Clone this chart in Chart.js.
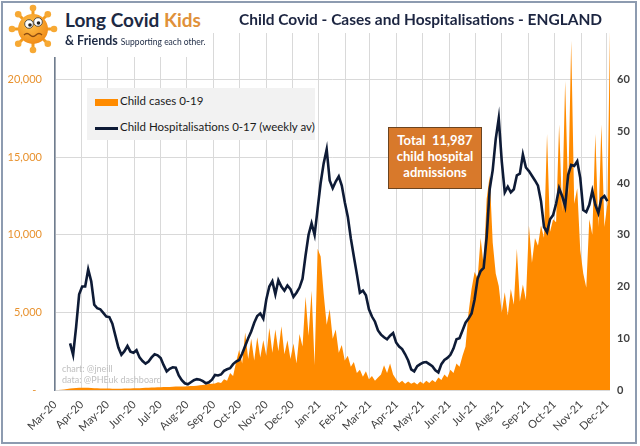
<!DOCTYPE html>
<html>
<head>
<meta charset="utf-8">
<script src="https://cdn.jsdelivr.net/npm/chart.js@4.4.1/dist/chart.umd.min.js"></script>
<style>
  body { margin: 0; background: #fff; }
  #wrap { position: relative; width: 640px; height: 446px; overflow: hidden; font-family: Lato, "Open Sans", sans-serif; }
  #chart { position: absolute; left: 0; top: 0; }
  #frame { position: absolute; left: 1px; top: 1px; width: 632px; height: 439px; border: 2px solid #8d9bb0; pointer-events: none; }
  #mask { position: absolute; left: 3px; top: 3px; width: 202px; height: 54px; background: #fff; }
  #logo { position: absolute; left: 0; top: 0; }
  #brand { position: absolute; left: 65px; top: 8px; font-size: 19px; font-weight: bold; color: #1d2a44; white-space: nowrap; }
  #brand span { color: #e0913a; }
  #friends { position: absolute; left: 65px; top: 33px; font-size: 12.5px; font-weight: bold; color: #1d2a44; white-space: nowrap; }
  #friends small { font-size: 8.5px; font-weight: normal; }
  #title { position: absolute; left: 239px; top: 10px; font-size: 16px; font-weight: bold; color: #1c2541; white-space: nowrap; }
  #legend { position: absolute; left: 87px; top: 88px; width: 228px; height: 52px; background: #f2f2f2; font-size: 11.5px; color: #1a1a1a; }
  #legend .row { position: absolute; left: 8px; height: 14px; white-space: nowrap; }
  #legend .sw1 { display: inline-block; width: 23px; height: 7px; background: #ff8b00; vertical-align: middle; margin-right: 2px; }
  #legend .sw2 { display: inline-block; width: 23px; height: 3px; background: #0e1b36; vertical-align: middle; margin-right: 2px; }
  #note { position: absolute; left: 388px; top: 127px; width: 92px; height: 56px; background: #d8792b; border: 1px solid #6b4420;
          color: #fff; font-weight: bold; font-size: 13px; line-height: 16px; text-align: center; padding-top: 4px; box-sizing: content-box; }
  #credit { position: absolute; left: 62px; top: 363px; font-size: 9px; line-height: 11px; color: #c0c0c0; }
</style>
</head>
<body>
<div id="wrap">
  <canvas id="chart" width="640" height="446"></canvas>
  <div id="mask"></div>
  <svg id="logo" width="64" height="58" viewBox="0 0 64 58">
    <defs>
      <radialGradient id="g" cx="40%" cy="35%" r="70%">
        <stop offset="0" stop-color="#ffc04a"/>
        <stop offset="1" stop-color="#f08a15"/>
      </radialGradient>
    </defs>
    <g stroke="#f39c1f" stroke-width="3">
      <line x1="33" y1="29" x2="54" y2="29"/><line x1="33" y1="29" x2="47.8" y2="14.2"/>
      <line x1="33" y1="29" x2="33" y2="8"/><line x1="33" y1="29" x2="18.2" y2="14.2"/>
      <line x1="33" y1="29" x2="12" y2="29"/><line x1="33" y1="29" x2="18.2" y2="43.8"/>
      <line x1="33" y1="29" x2="33" y2="50"/><line x1="33" y1="29" x2="47.8" y2="43.8"/>
    </g>
    <g fill="#f7a934">
      <circle cx="54" cy="29" r="3.3"/><circle cx="47.8" cy="14.2" r="3.3"/><circle cx="33" cy="8" r="3.3"/>
      <circle cx="18.2" cy="14.2" r="3.3"/><circle cx="12" cy="29" r="3.3"/><circle cx="18.2" cy="43.8" r="3.3"/>
      <circle cx="33" cy="50" r="3.3"/><circle cx="47.8" cy="43.8" r="3.3"/>
    </g>
    <circle cx="33" cy="29" r="15" fill="url(#g)"/>
    <circle cx="29" cy="24" r="4.3" fill="#fff" stroke="#333" stroke-width="0.8"/>
    <circle cx="38" cy="22" r="4.3" fill="#fff" stroke="#333" stroke-width="0.8"/>
    <circle cx="30" cy="25" r="1.8" fill="#222"/>
    <circle cx="38.5" cy="23" r="1.8" fill="#222"/>
    <path d="M24 35 q3 -3 6 0 t6 0 t6 0" stroke="#8a4a10" stroke-width="1.3" fill="none"/>
  </svg>
  <div id="brand">Long Covid <span>Kids</span></div>
  <div id="friends">&amp; Friends <small>Supporting each other.</small></div>
  <div id="title">Child Covid - Cases and Hospitalisations - ENGLAND</div>
  <div id="legend">
    <div class="row" style="top:6px"><span class="sw1"></span>Child cases 0-19</div>
    <div class="row" style="top:32px"><span class="sw2"></span>Child Hospitalisations 0-17 (weekly av)</div>
  </div>
  <div id="note">Total&nbsp; 11,987<br>child hospital<br>admissions</div>
  <div id="credit">chart: @jneill<br>data: @PHEuk dashboard</div>
  <div id="frame"></div>
</div>
<script>
// x axis: days since 1 Mar 2020
const MONTH_LABELS = ["Mar-20", "Apr-20", "May-20", "Jun-20", "Jul-20", "Aug-20", "Sep-20", "Oct-20",
    "Nov-20", "Dec-20", "Jan-21", "Feb-21", "Mar-21", "Apr-21", "May-21", "Jun-21", "Jul-21",
    "Aug-21", "Sep-21", "Oct-21", "Nov-21", "Dec-21"];
const MONTH_DAYS = [0, 31, 61, 92, 122, 153, 184, 214, 245, 275, 306, 337, 365, 396, 426, 457, 487,
    518, 549, 579, 610, 640];
const CASE_TICKS = [0, 5000, 10000, 15000, 20000];
const HOSP_TICKS = [0, 10, 20, 30, 40, 50, 60];

// child cases 0-19, one reading every 3.5 days from 1 Mar 2020
const CASE_STEP = 3.5;
const CASES = [
    0, 0, 20, 40, 70, 90, 110, 130, 140, 150,
    150, 140, 130, 120, 110, 100, 100, 90, 90, 80,
    80, 80, 80, 90, 90, 100, 110, 120, 120, 130,
    140, 150, 160, 160, 170, 180, 190, 200, 200, 210,
    220, 220, 230, 230, 240, 250, 260, 280, 300, 320,
    350, 380, 400, 420, 500, 450, 700, 600, 1100, 900,
    1800, 2600, 1700, 3700, 2000, 3300, 1900, 3400, 2100, 3200,
    2200, 4000, 2400, 3900, 2500, 4100, 2300, 3200, 2000, 3000,
    1700, 3600, 2800, 6000, 3500, 6400, 1600, 9100, 8600, 6200,
    4200, 5200, 3300, 3900, 2400, 2900, 1900, 2200, 1500, 1800,
    1100, 1300, 850, 1200, 700, 900, 600, 800, 1000, 1600,
    1100, 1700, 1000, 700, 450, 600, 400, 550, 400, 500,
    350, 550, 400, 600, 450, 650, 500, 800, 650, 1000,
    800, 1300, 1100, 1700, 1500, 2200, 2800, 5000, 6500, 7600,
    7200, 9800, 8000, 12300, 13800, 9500, 7500, 6700, 5000, 6300,
    4800, 6500, 5500, 9100, 5700, 6800, 5800, 10600, 8200, 9800,
    9300, 10600, 9800, 16500, 10200, 11000, 10800, 17100, 11500, 19900,
    12500, 22500, 12000, 13000, 9000, 7500, 6600, 11000, 10000, 16500,
    10500, 17100, 10500, 12000, 25000
];

// child hospitalisations 0-17 (weekly average), every 3.5 days from 18 Mar 2020
const HOSP_START = 17.5;
const HOSP_STEP = 3.5;
const HOSP = [
    9.0, 6.8, 12.2, 18.5, 20.0, 20.0, 23.3, 21.0, 16.5, 15.8,
    15.6, 14.9, 14.2, 14.1, 12.8, 10.5, 8.2, 6.8, 7.5, 8.5,
    7.4, 7.2, 7.7, 6.3, 5.6, 5.1, 5.5, 6.3, 6.9, 6.7,
    6.2, 4.8, 3.6, 4.1, 4.4, 4.3, 2.8, 1.9, 1.3, 1.1,
    1.5, 1.9, 2.1, 2.0, 1.7, 1.3, 1.5, 2.0, 2.9, 2.8,
    3.0, 3.7, 4.0, 4.2, 5.0, 5.5, 5.8, 7.0, 8.5, 10.0,
    11.3, 13.0, 14.3, 14.8, 13.8, 17.5, 20.0, 21.0, 18.5, 21.2,
    20.0, 19.2, 20.2, 19.5, 18.0, 18.8, 19.8, 21.5, 26.0, 30.0,
    32.2, 30.0, 35.0, 40.0, 43.8, 46.5, 40.5, 39.0, 40.3, 41.3,
    39.5, 36.3, 33.5, 29.3, 25.8, 22.4, 18.8, 19.2, 18.3, 15.6,
    14.2, 13.2, 11.5, 10.7, 10.2, 9.8, 10.5, 11.0, 9.2, 8.4,
    7.9, 6.9, 5.7, 4.0, 3.6, 4.6, 5.0, 5.3, 5.4, 5.0,
    4.6, 3.8, 3.4, 5.0, 5.8, 6.2, 6.8, 8.0, 9.8, 10.0,
    11.5, 13.0, 13.8, 14.8, 17.5, 21.5, 23.0, 23.6, 29.6, 38.8,
    42.5, 48.5, 52.5, 44.2, 38.2, 39.3, 38.2, 38.8, 41.5, 41.8,
    45.5, 43.0, 42.3, 41.4, 40.5, 39.5, 36.5, 31.5, 30.5, 33.0,
    33.8, 36.0, 39.0, 37.5, 35.5, 41.6, 43.5, 43.3, 44.2, 41.0,
    34.8, 34.4, 35.8, 38.5, 35.8, 34.2, 37.0, 37.5, 36.5
];

const casePoints = CASES.map((v, i) => ({ x: i * CASE_STEP, y: v }));
const hospPoints = HOSP.map((v, i) => ({ x: HOSP_START + i * HOSP_STEP, y: v }));

// squeeze the title into the width it takes in the picture
function fitWidth(el, target) {
    let size = parseFloat(getComputedStyle(el).fontSize);
    for (let n = 0; n < 6; n++) {
        size = size * target / el.getBoundingClientRect().width;
        el.style.fontSize = size + "px";
    }
}
fitWidth(document.getElementById("title"), 363);

const tickFont = { family: "Lato", size: 11 };

new Chart(document.getElementById("chart"), {
    data: {
        datasets: [{
            type: "line",
            label: "Child Hospitalisations 0-17 (weekly av)",
            data: hospPoints,
            yAxisID: "y2",
            borderColor: "#0e1b36",
            borderWidth: 2.6,
            pointRadius: 0,
            tension: 0,
            order: 0
        }, {
            type: "line",
            label: "Child cases 0-19",
            data: casePoints,
            yAxisID: "y",
            borderWidth: 0,
            backgroundColor: "#ff8b00",
            fill: "origin",
            pointRadius: 0,
            tension: 0,
            order: 1
        }]
    },
    options: {
        responsive: false,
        animation: false,
        layout: { padding: { top: 33, left: 0, right: 0, bottom: 0 } },
        plugins: {
            legend: { display: false },
            tooltip: { enabled: false }
        },
        scales: {
            x: {
                type: "linear",
                min: 0,
                max: 643.5,
                afterBuildTicks: (s) => { s.ticks = MONTH_DAYS.map(v => ({ value: v })); },
                afterFit: (s) => { s.height = 56; },
                grid: { color: "#d9d9d9", drawTicks: false },
                border: { display: false },
                ticks: {
                    autoSkip: false,
                    maxRotation: 45,
                    minRotation: 45,
                    padding: 8,
                    color: "#404040",
                    font: tickFont,
                    callback: (v, i) => MONTH_LABELS[i]
                }
            },
            y: {
                position: "left",
                min: 0,
                max: 23000,
                afterBuildTicks: (s) => { s.ticks = CASE_TICKS.map(v => ({ value: v })); },
                afterFit: (s) => { s.width = 55; },
                grid: { color: "#d9d9d9", drawTicks: false },
                border: { display: true, color: "#6f7d8f", width: 1.5 },
                ticks: {
                    padding: 13,
                    color: "#e8922f",
                    font: tickFont,
                    callback: (v) => v === 0 ? "-  " : v.toLocaleString("en-US")
                }
            },
            y2: {
                position: "right",
                min: 0,
                max: 69,
                afterBuildTicks: (s) => { s.ticks = HOSP_TICKS.map(v => ({ value: v })); },
                afterFit: (s) => { s.width = 30; },
                grid: { display: false, drawTicks: false },
                border: { display: false },
                ticks: {
                    padding: 7,
                    color: "#404040",
                    font: { family: "Lato", size: 11, weight: "bold" }
                }
            }
        }
    }
});
</script>
</body>
</html>
